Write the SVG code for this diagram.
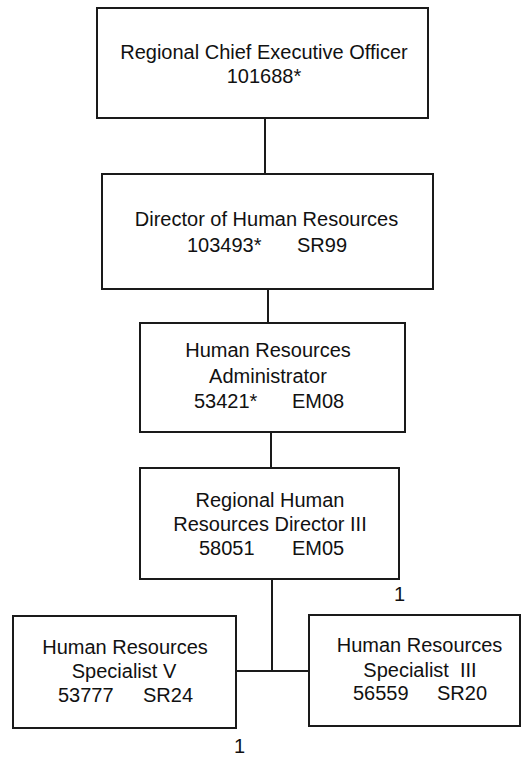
<svg xmlns="http://www.w3.org/2000/svg" width="522" height="759" viewBox="0 0 522 759">
<style>
.box{fill:#fff;stroke:#1a1a1a;stroke-width:2}
.t{font-family:"Liberation Sans",Arial,sans-serif;font-size:20px;fill:#111}
.m{text-anchor:middle}
.c{stroke:#1a1a1a;stroke-width:2;fill:none}
</style>
<rect width="522" height="759" fill="#fff"/>
<g id="connectors">
<line class="c" x1="265" y1="118" x2="265" y2="174"/>
<line class="c" x1="268" y1="289" x2="268" y2="323"/>
<line class="c" x1="271" y1="432" x2="271" y2="468"/>
<line class="c" x1="272" y1="579" x2="272" y2="671"/>
<line class="c" x1="236" y1="671" x2="309" y2="671"/>
</g>
<g id="n1">
<rect class="box" x="97" y="8" width="331" height="110"/>
<text class="t m" x="264" y="59">Regional Chief Executive Officer</text>
<text class="t m" x="264" y="83">101688*</text>
</g>
<g id="n2">
<rect class="box" x="102" y="174" width="331" height="115"/>
<text class="t m" x="266.5" y="226">Director of Human Resources</text>
<text class="t" x="187" y="252">103493*</text>
<text class="t" x="297" y="252">SR99</text>
</g>
<g id="n3">
<rect class="box" x="140" y="323" width="265" height="109"/>
<text class="t m" x="268" y="357">Human Resources</text>
<text class="t m" x="268" y="383">Administrator</text>
<text class="t" x="194" y="408">53421*</text>
<text class="t" x="292" y="408">EM08</text>
</g>
<g id="n4">
<rect class="box" x="140" y="468" width="259" height="111"/>
<text class="t m" x="270" y="507">Regional Human</text>
<text class="t m" x="270" y="531">Resources Director III</text>
<text class="t" x="199" y="555">58051</text>
<text class="t" x="292" y="555">EM05</text>
</g>
<g id="n5">
<rect class="box" x="13" y="616" width="223" height="112"/>
<text class="t m" x="125" y="654">Human Resources</text>
<text class="t m" x="124" y="678">Specialist V</text>
<text class="t" x="58" y="702">53777</text>
<text class="t" x="143" y="702">SR24</text>
</g>
<g id="n6">
<rect class="box" x="309" y="615" width="211" height="111"/>
<text class="t m" x="419.5" y="652">Human Resources</text>
<text class="t m" x="420" y="677" xml:space="preserve">Specialist  III</text>
<text class="t" x="353" y="700">56559</text>
<text class="t" x="437" y="700">SR20</text>
</g>
<text class="t" x="394" y="601" font-size="15">1</text>
<text class="t" x="234" y="753" font-size="14">1</text>
</svg>
